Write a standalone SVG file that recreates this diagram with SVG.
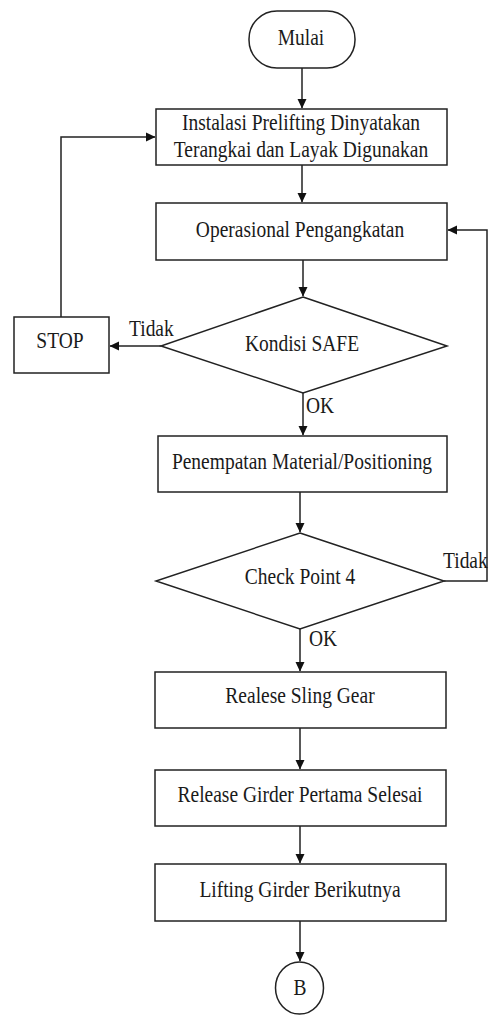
<svg xmlns="http://www.w3.org/2000/svg" width="489" height="1016" viewBox="0 0 489 1016">
<style>
.s{fill:#fff;stroke:#222;stroke-width:1.5}
.c{fill:none;stroke:#222;stroke-width:1.5}
text{font-family:"Liberation Serif","Times New Roman",serif;font-size:19.5px;fill:#1a1a1a}
.m{text-anchor:middle}
</style>
<defs>
<marker id="a" markerWidth="10" markerHeight="10" refX="9" refY="5" orient="auto" markerUnits="userSpaceOnUse" viewBox="0 0 10 10">
<path d="M0,0.5 L9.5,5 L0,9.5 Z" fill="#111"/>
</marker>
</defs>
<rect width="489" height="1016" fill="#fff"/>
<g id="connectors">
<path class="c" d="M302,68 V108" marker-end="url(#a)"/>
<path class="c" d="M302,165 V202" marker-end="url(#a)"/>
<path class="c" d="M303,260 V296" marker-end="url(#a)"/>
<path class="c" d="M161,346 H110" marker-end="url(#a)"/>
<path class="c" d="M61,317 V137 H155" marker-end="url(#a)"/>
<path class="c" d="M303,393 V435" marker-end="url(#a)"/>
<path class="c" d="M300,492 V532" marker-end="url(#a)"/>
<path class="c" d="M444,581 H487 V230 H448" marker-end="url(#a)"/>
<path class="c" d="M300,629 V671" marker-end="url(#a)"/>
<path class="c" d="M300,728 V769" marker-end="url(#a)"/>
<path class="c" d="M300,826 V863" marker-end="url(#a)"/>
<path class="c" d="M300,921 V961" marker-end="url(#a)"/>
<text transform="translate(129,336) scale(1,1.2)">Tidak</text>
<text transform="translate(306,413) scale(1,1.2)">OK</text>
<text transform="translate(443,568) scale(1,1.2)">Tidak</text>
<text transform="translate(309,646) scale(1,1.2)">OK</text>
</g>
<g id="mulai">
<rect class="s" x="249" y="11" width="106" height="57" rx="28" ry="28"/>
<text class="m" transform="translate(301,45) scale(1,1.2)">Mulai</text>
</g>
<g id="instalasi">
<rect class="s" x="156" y="109" width="291" height="56"/>
<text class="m" transform="translate(301,130) scale(1,1.2)">Instalasi Prelifting Dinyatakan</text>
<text class="m" transform="translate(301,157) scale(1,1.2)">Terangkai dan Layak Digunakan</text>
</g>
<g id="operasional">
<rect class="s" x="156" y="203" width="291" height="57"/>
<text class="m" transform="translate(300,237) scale(1,1.2)">Operasional Pengangkatan</text>
</g>
<g id="kondisi">
<polygon class="s" points="303,297 447,346 303,393 161,346"/>
<text class="m" transform="translate(302,351) scale(1,1.2)">Kondisi SAFE</text>
</g>
<g id="stop">
<rect class="s" x="14" y="317" width="95" height="56"/>
<text class="m" transform="translate(60,348) scale(1,1.2)">STOP</text>
</g>
<g id="penempatan">
<rect class="s" x="158" y="436" width="289" height="56"/>
<text class="m" transform="translate(302,469) scale(1,1.2)">Penempatan Material/Positioning</text>
</g>
<g id="checkpoint">
<polygon class="s" points="300,533 444,581 300,629 156,581"/>
<text class="m" transform="translate(300,584) scale(1,1.2)">Check Point 4</text>
</g>
<g id="realese">
<rect class="s" x="155" y="672" width="291" height="56"/>
<text class="m" transform="translate(300,703) scale(1,1.2)">Realese Sling Gear</text>
</g>
<g id="release">
<rect class="s" x="155" y="770" width="291" height="56"/>
<text class="m" transform="translate(300,802) scale(1,1.2)">Release Girder Pertama Selesai</text>
</g>
<g id="lifting">
<rect class="s" x="155" y="864" width="291" height="57"/>
<text class="m" transform="translate(300,897) scale(1,1.2)">Lifting Girder Berikutnya</text>
</g>
<g id="b">
<ellipse class="s" cx="299.5" cy="988" rx="24" ry="26"/>
<text class="m" transform="translate(300,995) scale(1,1.2)">B</text>
</g>
</svg>
